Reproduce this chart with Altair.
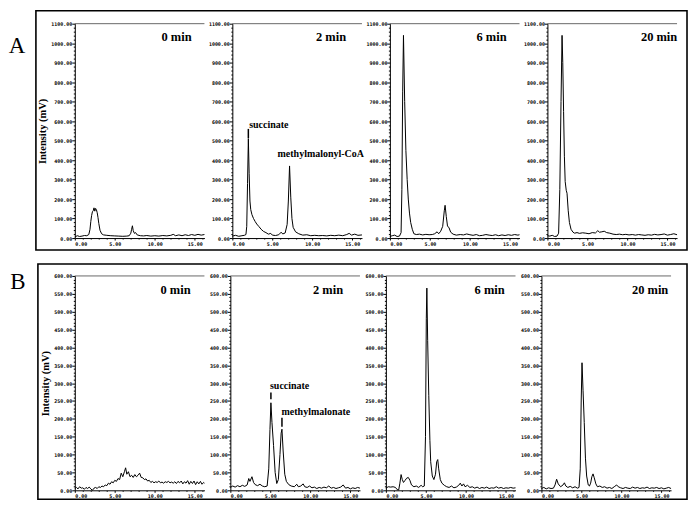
import altair as alt
import pandas as pd

# ---------------- data (time in min, intensity in mV) ----------------
A_0min = [(0.0, 5), (0.3, 12), (0.6, 8), (0.9, 10), (1.2, 13), (1.5, 12), (1.75, 18), (1.9, 45),
          (2.0, 85), (2.1, 115), (2.2, 135), (2.3, 140), (2.4, 155), (2.5, 138), (2.6, 152), (2.7, 145),
          (2.8, 130), (2.9, 105), (3.0, 75), (3.15, 40), (3.35, 22), (3.6, 16), (4.0, 14), (4.5, 12),
          (5.0, 11), (5.5, 10), (6.0, 9), (6.5, 10), (6.8, 12), (7.0, 25), (7.1, 45), (7.2, 63),
          (7.3, 38), (7.45, 24), (7.6, 28), (7.8, 16), (8.2, 12), (8.6, 11), (9.0, 13), (9.5, 10),
          (10.0, 12), (10.5, 10), (11.0, 13), (11.5, 11), (12.0, 14), (12.3, 19), (12.6, 12), (13.0, 16),
          (13.4, 12), (13.8, 17), (14.2, 13), (14.6, 18), (15.0, 14), (15.4, 19), (15.8, 15), (16.2, 18)]
A_2min = [(0.0, 10), (0.4, 14), (0.8, 9), (1.2, 12), (1.5, 14), (1.7, 18), (1.8, 60), (1.9, 280),
          (2.0, 510), (2.1, 330), (2.2, 190), (2.3, 146), (2.45, 120), (2.65, 100), (2.85, 85), (3.05, 72),
          (3.3, 60), (3.6, 45), (3.9, 34), (4.2, 28), (4.5, 20), (4.8, 24), (5.0, 15), (5.4, 13),
          (5.8, 17), (6.1, 30), (6.3, 21), (6.6, 26), (6.85, 70), (7.0, 190), (7.15, 370), (7.3, 210),
          (7.45, 100), (7.6, 55), (7.9, 32), (8.3, 22), (8.8, 15), (9.3, 17), (9.8, 12), (10.3, 14),
          (10.8, 12), (11.3, 13), (11.8, 11), (12.3, 14), (12.8, 12), (13.3, 15), (13.8, 12), (14.3, 18),
          (14.6, 24), (14.9, 15), (15.3, 20), (15.7, 14), (16.2, 16)]
A_6min = [(0.0, 8), (0.3, 12), (0.6, 15), (0.9, 8), (1.2, 10), (1.4, 28), (1.5, 250), (1.6, 750),
          (1.7, 1040), (1.85, 700), (2.0, 450), (2.16, 300), (2.3, 200), (2.45, 128), (2.6, 80), (2.8, 45),
          (3.0, 22), (3.3, 18), (3.7, 20), (4.1, 16), (4.5, 19), (4.9, 17), (5.3, 18), (5.6, 22),
          (5.9, 32), (6.1, 22), (6.35, 35), (6.6, 60), (6.8, 140), (6.9, 168), (7.05, 110), (7.2, 62),
          (7.4, 52), (7.6, 30), (7.9, 20), (8.3, 15), (8.8, 18), (9.2, 16), (9.6, 21), (10.0, 17),
          (10.4, 14), (10.8, 18), (11.2, 12), (11.6, 14), (12.0, 18), (12.4, 15), (12.8, 13), (13.2, 17),
          (13.6, 12), (14.0, 16), (14.4, 13), (14.8, 17), (15.2, 14), (15.6, 18), (16.0, 15), (16.2, 17)]
A_20min = [(0.0, 12), (0.3, 10), (0.6, 14), (0.9, 8), (1.2, 10), (1.4, 25), (1.55, 250), (1.7, 700),
           (1.83, 1040), (1.92, 900), (2.02, 650), (2.12, 420), (2.22, 290), (2.35, 245), (2.45, 230),
           (2.6, 140), (2.75, 80), (2.95, 45), (3.2, 30), (3.4, 25), (3.7, 28), (4.0, 24), (4.4, 27),
           (4.8, 25), (5.2, 22), (5.6, 28), (6.0, 26), (6.3, 38), (6.5, 30), (6.8, 32), (7.1, 35),
           (7.4, 28), (7.8, 25), (8.2, 20), (8.6, 18), (9.0, 20), (9.4, 17), (9.8, 19), (10.2, 16),
           (10.6, 18), (11.0, 15), (11.4, 18), (11.8, 16), (12.2, 14), (12.6, 17), (13.0, 15), (13.4, 19),
           (13.8, 16), (14.2, 18), (14.6, 21), (15.0, 15), (15.4, 18), (15.8, 22), (16.2, 17)]

B_0min = [(0.0, 5), (0.2, 8), (0.4, 4), (0.6, 10), (0.8, 6), (1.0, 7), (1.2, 3), (1.4, 8), (1.6, 5),
          (1.8, 9), (2.0, 4), (2.2, 0), (2.4, 6), (2.6, 8), (2.8, 5), (3.0, 10), (3.2, 8), (3.4, 12),
          (3.6, 10), (3.8, 15), (4.0, 13), (4.2, 20), (4.4, 17), (4.6, 24), (4.8, 21), (5.0, 28),
          (5.2, 25), (5.4, 33), (5.6, 30), (5.8, 48), (6.0, 38), (6.2, 52), (6.35, 63), (6.5, 45),
          (6.7, 52), (6.9, 38), (7.1, 42), (7.3, 36), (7.5, 44), (7.7, 38), (7.9, 42), (8.1, 48),
          (8.3, 36), (8.5, 35), (8.7, 30), (8.9, 32), (9.1, 26), (9.3, 28), (9.5, 22), (9.7, 25),
          (9.9, 21), (10.1, 24), (10.3, 22), (10.5, 26), (10.7, 21), (10.9, 23), (11.1, 20), (11.3, 24),
          (11.5, 22), (11.7, 25), (11.9, 21), (12.1, 23), (12.3, 20), (12.5, 24), (12.7, 19), (12.9, 25),
          (13.1, 21), (13.3, 26), (13.5, 18), (13.7, 24), (13.9, 20), (14.1, 27), (14.3, 17), (14.5, 25),
          (14.7, 19), (14.9, 26), (15.1, 16), (15.3, 24), (15.5, 18), (15.7, 25), (15.9, 17), (16.1, 22),
          (16.2, 20)]
B_2min = [(0.0, 8), (0.3, 12), (0.6, 9), (0.9, 13), (1.2, 10), (1.5, 14), (1.8, 11), (2.1, 15),
          (2.3, 33), (2.45, 25), (2.7, 38), (2.9, 22), (3.1, 16), (3.4, 13), (3.7, 17), (4.0, 12),
          (4.3, 10), (4.6, 12), (4.8, 60), (4.95, 170), (5.07, 245), (5.2, 190), (5.4, 125), (5.6, 50),
          (5.8, 19), (6.0, 30), (6.2, 100), (6.35, 160), (6.45, 171), (6.6, 110), (6.8, 45), (7.0, 25),
          (7.3, 16), (7.6, 12), (8.0, 10), (8.3, 17), (8.5, 10), (8.8, 12), (9.1, 18), (9.3, 10),
          (9.6, 8), (9.9, 12), (10.2, 7), (10.5, 9), (10.8, 5), (11.1, 8), (11.4, 6), (11.7, 9),
          (12.0, 7), (12.3, 12), (12.6, 6), (12.9, 8), (13.2, 5), (13.5, 7), (13.8, 9), (14.1, 15),
          (14.4, 6), (14.7, 8), (15.0, 4), (15.3, 7), (15.6, 5), (15.9, 8), (16.2, 6)]
B_6min = [(0.0, 6), (0.3, 10), (0.6, 9), (0.9, 10), (1.2, 8), (1.4, 2), (1.6, 1), (1.75, 20),
          (1.9, 44), (2.05, 30), (2.2, 22), (2.4, 28), (2.6, 34), (2.8, 36), (3.0, 28), (3.2, 15),
          (3.5, 10), (3.8, 12), (4.1, 8), (4.4, 14), (4.6, 10), (4.8, 12), (4.95, 150), (5.05, 480),
          (5.12, 566), (5.22, 420), (5.36, 266), (5.5, 140), (5.6, 80), (5.8, 40), (6.0, 30), (6.2, 45),
          (6.35, 80), (6.48, 86), (6.6, 60), (6.8, 30), (7.0, 20), (7.3, 14), (7.6, 10), (7.9, 8),
          (8.2, 12), (8.5, 7), (8.8, 9), (9.1, 14), (9.3, 20), (9.5, 12), (9.7, 18), (9.9, 10),
          (10.2, 14), (10.5, 8), (10.8, 10), (11.1, 6), (11.4, 9), (11.7, 5), (12.0, 8), (12.3, 6),
          (12.6, 9), (12.9, 5), (13.2, 7), (13.5, 6), (13.8, 10), (14.1, 6), (14.4, 8), (14.7, 5),
          (15.0, 7), (15.3, 6), (15.6, 8), (15.9, 6), (16.2, 7)]
B_20min = [(0.0, 5), (0.3, 8), (0.6, 4), (0.9, 7), (1.2, 5), (1.5, 6), (1.7, 15), (1.9, 31),
           (2.1, 18), (2.4, 10), (2.7, 15), (2.87, 21), (3.05, 12), (3.3, 8), (3.6, 11), (3.9, 7),
           (4.2, 10), (4.5, 6), (4.7, 8), (4.85, 60), (4.97, 250), (5.07, 357), (5.2, 280), (5.35, 190),
           (5.5, 90), (5.65, 40), (5.85, 15), (6.0, 12), (6.15, 20), (6.3, 38), (6.45, 46), (6.6, 35),
           (6.8, 18), (7.0, 10), (7.3, 12), (7.6, 8), (7.9, 10), (8.2, 6), (8.5, 8), (8.8, 5),
           (9.1, 10), (9.4, 15), (9.6, 10), (9.9, 7), (10.2, 5), (10.5, 8), (10.8, 6), (11.1, 5),
           (11.4, 9), (11.7, 6), (12.0, 8), (12.3, 5), (12.6, 7), (12.9, 6), (13.2, 9), (13.5, 5),
           (13.8, 7), (14.1, 6), (14.4, 8), (14.7, 5), (15.0, 7), (15.3, 4), (15.6, 6), (15.9, 8),
           (16.2, 5)]

PANEL_LABELS = ["0 min", "2 min", "6 min", "20 min"]
ROW_LETTERS = ["A", "B"]
ROW_TRACES = [[A_0min, A_2min, A_6min, A_20min], [B_0min, B_2min, B_6min, B_20min]]
Y_MAX = [1100, 600]
Y_MAJOR = [100, 50]
Y_MINOR = [20, 10]
X_MAX = 16.2
X_MAJOR = 5

# peak annotations (2 min panels): text, x (min), y (mV)
ANN_A_TEXT = ["succinate", "methylmalonyl-CoA"]
ANN_A_X = [2.1, 5.65]
ANN_A_Y = [565, 418]
TICK_A_X = [2.0]
TICK_A_Y0 = [512]
TICK_A_Y1 = [560]

ANN_B_TEXT = ["succinate", "methylmalonate"]
ANN_B_X = [4.95, 6.4]
ANN_B_Y = [283, 210]
TICK_B_X = [5.07, 6.45]
TICK_B_Y0 = [255, 178]
TICK_B_Y1 = [274, 203]

ANN = [(ANN_A_TEXT, ANN_A_X, ANN_A_Y, TICK_A_X, TICK_A_Y0, TICK_A_Y1),
       (ANN_B_TEXT, ANN_B_X, ANN_B_Y, TICK_B_X, TICK_B_Y0, TICK_B_Y1)]

# ---------------- styling / layout ----------------
W, H = 130, 215
LABEL_CX = [[102, 99, 102, 112], [101, 98, 104, 109]]
LABEL_BASE = [17, 18]
BOX = [(-39, 614, -13, 227), (-37, 614, -12, 224)]
LETTER_POS = [(-58, 29), (-57, 13)]
SERIF = "Liberation Serif"
MONO = "DejaVu Sans Mono"


def x_enc(field, r):
    return alt.X(
        field, type="quantitative", title=None,
        scale=alt.Scale(domain=[0, X_MAX], nice=False, zero=False),
        axis=alt.Axis(
            values=list(range(0, 17)),
            labelExpr=f"datum.value % {X_MAJOR} === 0 ? format(datum.value, '.2f') : ''",
            tickSize={"condition": {"test": f"datum.value % {X_MAJOR} === 0", "value": 2}, "value": 1},
            labelPadding=1, labelOverlap=False,
        ),
    )


def y_enc(field, r, first):
    ax = dict(
        values=list(range(0, Y_MAX[r] + 1, Y_MINOR[r])),
        labelExpr=f"datum.value % {Y_MAJOR[r]} === 0 ? format(datum.value, '.2f') : ''",
        tickSize={"condition": {"test": f"datum.value % {Y_MAJOR[r]} === 0", "value": 3}, "value": 1.5},
        labelPadding=0, labelOverlap=False,
    )
    if first:
        ax.update(title="Intensity (mV)", titleFont=SERIF, titleFontWeight="bold",
                  titleFontSize=10.5, titlePadding=3, titleColor="black")
        return alt.Y(field, type="quantitative",
                     scale=alt.Scale(domain=[0, Y_MAX[r]], nice=False, zero=True),
                     axis=alt.Axis(**ax))
    return alt.Y(field, type="quantitative", title=None,
                 scale=alt.Scale(domain=[0, Y_MAX[r]], nice=False, zero=True),
                 axis=alt.Axis(**ax))


def panel(r, i):
    first = i == 0
    pts = ROW_TRACES[r][i]
    df = pd.DataFrame({"t": [p[0] for p in pts], "v": [p[1] for p in pts]})
    layers = []
    layers.append(
        alt.Chart(df).mark_line(color="black", strokeWidth=1, interpolate="linear")
        .encode(x=x_enc("t", r), y=y_enc("v", r, first))
    )
    one = pd.DataFrame({"label": [PANEL_LABELS[i]], "top": [Y_MAX[r]]})
    layers.append(
        alt.Chart(one).mark_rule(color="#444", strokeWidth=0.8)
        .encode(y=y_enc("top", r, first))
    )
    layers.append(
        alt.Chart(one).mark_text(font=SERIF, fontWeight="bold", fontSize=12.5,
                                 align="center", baseline="alphabetic", color="black")
        .encode(x=alt.value(LABEL_CX[r][i]), y=alt.value(LABEL_BASE[r]), text="label:N")
    )
    if i == 1:
        txt, ax, ay, tx, ty0, ty1 = ANN[r]
        adf = pd.DataFrame({"text": txt, "t": ax, "v": ay})
        tdf = pd.DataFrame({"t": tx, "v0": ty0, "v1": ty1})
        layers.append(
            alt.Chart(tdf).mark_rule(color="black", strokeWidth=1.5)
            .encode(x=x_enc("t", r), y=y_enc("v0", r, first), y2="v1:Q")
        )
        layers.append(
            alt.Chart(adf).mark_text(font=SERIF, fontWeight="bold", fontSize=10,
                                     align="left", baseline="alphabetic", color="black")
            .encode(x=x_enc("t", r), y=y_enc("v", r, first), text="text:N")
        )
    if first:
        bx0, bx1, by0, by1 = BOX[r]
        bdf = pd.DataFrame({"letter": [ROW_LETTERS[r]]})
        layers.append(
            alt.Chart(bdf).mark_rect(filled=False, stroke="black", strokeWidth=1.6)
            .encode(x=alt.value(bx0), x2=alt.value(bx1), y=alt.value(by0), y2=alt.value(by1))
        )
        lx, ly = LETTER_POS[r]
        layers.append(
            alt.Chart(bdf).mark_text(font=SERIF, fontSize=23, align="center",
                                     baseline="alphabetic", color="black")
            .encode(x=alt.value(lx), y=alt.value(ly), text="letter:N")
        )
    return alt.layer(*layers).properties(width=W, height=H)


rowA = alt.hconcat(*[panel(0, i) for i in range(4)], spacing=28, bounds="flush")
rowB = alt.hconcat(*[panel(1, i) for i in range(4)], spacing=26, bounds="flush")

chart = (
    alt.vconcat(rowA, rowB, spacing=12)
    .properties(padding={"left": 0, "top": 1, "right": 2, "bottom": 2}, background="white")
    .configure_view(stroke=None)
    .configure_axis(
        grid=False, domainColor="black", domainWidth=1, tickColor="black", tickWidth=1,
        labelFont=MONO, labelFontWeight="bold", labelFontSize=5, labelColor="black",
    )
)

chart.save("out.html", embed_options={"renderer": "svg", "actions": False})
